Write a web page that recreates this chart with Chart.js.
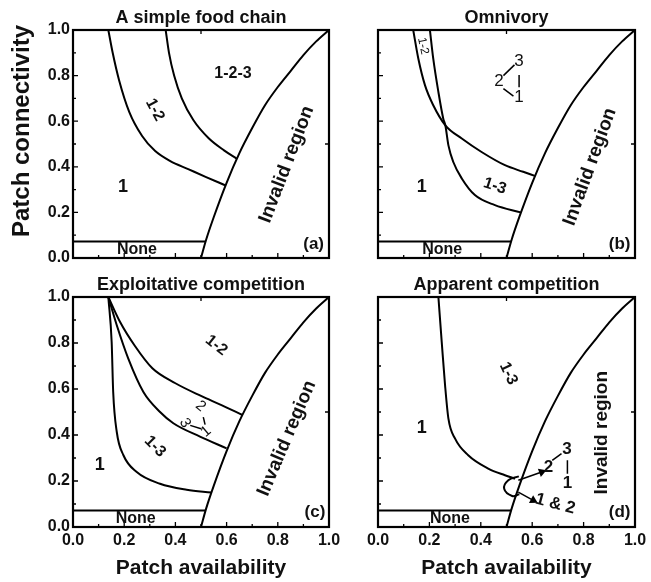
<!DOCTYPE html>
<html>
<head>
<meta charset="UTF-8">
<title>Patch availability / connectivity diagrams</title>
<script src="https://cdn.jsdelivr.net/npm/chart.js"></script>
<style>
  body { margin: 0; background: #fff; width: 651px; height: 582px; overflow: hidden; position: relative; }
  .panel { position: absolute; }
</style>
</head>
<body>
<div class="panel" style="left:0;top:0;width:335px;height:270px"><canvas id="ca"></canvas></div>
<div class="panel" style="left:305px;top:0;width:346px;height:270px"><canvas id="cb"></canvas></div>
<div class="panel" style="left:0;top:270px;width:340px;height:312px"><canvas id="cc"></canvas></div>
<div class="panel" style="left:305px;top:270px;width:346px;height:312px"><canvas id="cd"></canvas></div>

<script>
// boundary of the invalid region (same in all panels)
const invalidX = [0.5, 0.52, 0.55, 0.6, 0.65, 0.7, 0.75, 0.8, 0.85, 0.9, 0.95, 1.0];
const invalidY = [0, 0.08, 0.18, 0.33, 0.46, 0.57, 0.67, 0.75, 0.82, 0.89, 0.95, 1.0];
// "None" line
const noneX = [0, 0.518];
const noneY = [0.072, 0.072];

// (a) simple food chain
const aLowX = [0.138, 0.155, 0.18, 0.22, 0.27, 0.32, 0.38, 0.45, 0.52, 0.594];
const aLowY = [1.0, 0.9, 0.78, 0.64, 0.535, 0.47, 0.425, 0.39, 0.355, 0.319];
const aUpX = [0.362, 0.375, 0.395, 0.425, 0.47, 0.53, 0.59, 0.639];
const aUpY = [1.0, 0.9, 0.8, 0.7, 0.605, 0.525, 0.472, 0.436];

// (b) omnivory
const bAX = [0.137, 0.157, 0.183, 0.215, 0.262, 0.326, 0.403, 0.494, 0.565, 0.61];
const bAY = [1.0, 0.874, 0.757, 0.67, 0.582, 0.524, 0.465, 0.407, 0.378, 0.36];
const bBX = [0.202, 0.215, 0.235, 0.254, 0.262, 0.274, 0.293, 0.326, 0.377, 0.455, 0.555];
const bBY = [1.0, 0.874, 0.728, 0.611, 0.582, 0.494, 0.421, 0.349, 0.276, 0.232, 0.2];

// (c) exploitative competition
const cLowX = [0.138, 0.151, 0.157, 0.171, 0.197, 0.249, 0.34, 0.444, 0.54];
const cLowY = [1.0, 0.804, 0.587, 0.413, 0.312, 0.239, 0.188, 0.162, 0.15];
const cMidX = [0.138, 0.171, 0.216, 0.275, 0.34, 0.392, 0.496, 0.6];
const cMidY = [1.0, 0.877, 0.732, 0.587, 0.5, 0.451, 0.393, 0.342];
const cUpX = [0.138, 0.184, 0.24, 0.31, 0.40, 0.50, 0.58, 0.662];
const cUpY = [1.0, 0.891, 0.79, 0.69, 0.625, 0.57, 0.53, 0.487];

// (d) apparent competition
const dX = [0.235, 0.248, 0.261, 0.274, 0.3, 0.351, 0.429, 0.494, 0.533];
const dY = [1.0, 0.804, 0.616, 0.471, 0.384, 0.312, 0.254, 0.225, 0.21];
const dLoopX = [0.548, 0.507, 0.491, 0.522, 0.55];
const dLoopY = [0.22, 0.203, 0.166, 0.135, 0.142];

const tickVals = [0, 0.1, 0.2, 0.3, 0.4, 0.5, 0.6, 0.7, 0.8, 0.9, 1.0];
const FONT = '"Liberation Sans", Arial, sans-serif';

function pts(xs, ys) { return xs.map((x, i) => ({ x: x, y: ys[i] })); }
function line(xs, ys, extra) {
  return Object.assign({ data: pts(xs, ys), showLine: true, borderColor: '#000', borderWidth: 2,
    pointRadius: 0, cubicInterpolationMode: 'monotone', fill: false }, extra || {});
}
function seg(xs, ys, extra) {
  return line(xs, ys, Object.assign({ borderWidth: 1.5, cubicInterpolationMode: 'default', tension: 0 }, extra || {}));
}
function baseSets() {
  return [line(invalidX, invalidY), seg(noneX, noneY, { borderWidth: 2 })];
}

const panelPlugin = {
  id: 'panel',
  afterDatasetsDraw(chart) {
    const cfg = chart.options.plugins.panel;
    const ctx = chart.ctx, a = chart.chartArea;
    const sx = chart.scales.x, sy = chart.scales.y;
    ctx.save();
    ctx.strokeStyle = '#000';
    ctx.lineWidth = 2.2;
    ctx.strokeRect(a.left, a.top, a.right - a.left, a.bottom - a.top);
    ctx.lineWidth = 1.3;
    ctx.beginPath();
    tickVals.forEach((v, i) => {
      const len = i % 2 === 0 ? 5 : 3;
      const px = sx.getPixelForValue(v), py = sy.getPixelForValue(v);
      ctx.moveTo(px, a.bottom); ctx.lineTo(px, a.bottom - len);
      ctx.moveTo(a.left, py); ctx.lineTo(a.left + len, py);
    });
    const mx = sx.getPixelForValue(0.5), my = sy.getPixelForValue(0.5);
    ctx.moveTo(mx, a.top); ctx.lineTo(mx, a.top + 4);
    ctx.moveTo(a.right, my); ctx.lineTo(a.right - 4, my);
    ctx.stroke();

    ctx.fillStyle = '#111';
    ctx.textAlign = 'center';
    ctx.textBaseline = 'middle';
    cfg.labels.forEach(l => {
      ctx.save();
      ctx.translate(sx.getPixelForValue(l.x), sy.getPixelForValue(l.y));
      ctx.rotate((l.rot || 0) * Math.PI / 180);
      ctx.font = (l.w || 'bold') + ' ' + (l.s || 16) + 'px ' + FONT;
      ctx.fillText(l.t, 0, 0);
      ctx.restore();
    });

    ctx.font = 'bold 18px ' + FONT;
    ctx.fillText(cfg.title, (a.left + a.right) / 2, a.top - 12);
    if (cfg.yTitle) {
      ctx.save();
      ctx.translate(22, (a.top + a.bottom) / 2 - 13);
      ctx.rotate(-Math.PI / 2);
      ctx.font = 'bold 24px ' + FONT;
      ctx.fillText(cfg.yTitle, 0, 0);
      ctx.restore();
    }
    if (cfg.xTitle) {
      ctx.font = 'bold 21px ' + FONT;
      ctx.fillText(cfg.xTitle, (a.left + a.right) / 2, a.bottom + 41);
    }
    ctx.restore();
  }
};

function makeChart(id, datasets, cfg) {
  const tickFont = { family: FONT, size: 16, weight: 'bold' };
  return new Chart(document.getElementById(id), {
    type: 'scatter',
    data: { datasets: datasets },
    options: {
      responsive: true,
      maintainAspectRatio: false,
      animation: false,
      layout: { padding: { top: cfg.padTop, right: cfg.padRight, left: 0, bottom: 0 } },
      plugins: { legend: { display: false }, tooltip: { enabled: false }, panel: cfg },
      scales: {
        x: {
          type: 'linear', min: 0, max: 1,
          grid: { display: false, drawTicks: false }, border: { display: false },
          ticks: { display: cfg.xLabels, stepSize: 0.2, padding: 4, color: '#111', font: tickFont,
                   maxRotation: 0, callback: v => v.toFixed(1) },
          afterFit: s => { s.height = cfg.xH; s.paddingLeft = 0; s.paddingRight = 0; }
        },
        y: {
          type: 'linear', min: 0, max: 1,
          grid: { display: false, drawTicks: false }, border: { display: false },
          ticks: { display: cfg.yLabels, stepSize: 0.2, padding: 3, color: '#111', font: tickFont,
                   callback: v => v.toFixed(1) },
          afterFit: s => { s.width = 73; s.paddingTop = 0; s.paddingBottom = 0; }
        }
      }
    },
    plugins: [panelPlugin]
  });
}

makeChart('ca', baseSets().concat([line(aLowX, aLowY), line(aUpX, aUpY)]), {
  title: 'A simple food chain', yTitle: 'Patch connectivity',
  padTop: 30, padRight: 6, xH: 12, xLabels: false, yLabels: true,
  labels: [
    { t: '1-2-3', x: 0.625, y: 0.81 },
    { t: '1-2', x: 0.32, y: 0.65, rot: 62 },
    { t: '1', x: 0.195, y: 0.31, s: 18 },
    { t: 'None', x: 0.25, y: 0.035 },
    { t: 'Invalid region', x: 0.835, y: 0.41, rot: -69, s: 19 },
    { t: '(a)', x: 0.94, y: 0.06, s: 17 }
  ]
});

makeChart('cb', baseSets().concat([
  line(bAX, bAY), line(bBX, bBY),
  seg([0.488, 0.531], [0.80, 0.847]),
  seg([0.549, 0.549], [0.803, 0.749]),
  seg([0.488, 0.527], [0.743, 0.71])
]), {
  title: 'Omnivory',
  padTop: 30, padRight: 16, xH: 12, xLabels: false, yLabels: false,
  labels: [
    { t: '1-2', x: 0.175, y: 0.93, rot: 78, s: 12, w: 'normal' },
    { t: '3', x: 0.549, y: 0.862, s: 17, w: 'normal' },
    { t: '2', x: 0.471, y: 0.775, s: 17, w: 'normal' },
    { t: '1', x: 0.549, y: 0.703, s: 17, w: 'normal' },
    { t: '1-3', x: 0.455, y: 0.315, rot: 18 },
    { t: '1', x: 0.17, y: 0.31, s: 18 },
    { t: 'None', x: 0.25, y: 0.035 },
    { t: 'Invalid region', x: 0.825, y: 0.40, rot: -70, s: 19 },
    { t: '(b)', x: 0.94, y: 0.06, s: 17 }
  ]
});

makeChart('cc', baseSets().concat([
  line(cLowX, cLowY), line(cMidX, cMidY), line(cUpX, cUpY),
  seg([0.509, 0.516], [0.478, 0.445]),
  seg([0.458, 0.50], [0.442, 0.427])
]), {
  title: 'Exploitative competition', xTitle: 'Patch availability',
  padTop: 27, padRight: 11, xH: 55, xLabels: true, yLabels: true,
  labels: [
    { t: '1-2', x: 0.56, y: 0.79, rot: 38 },
    { t: '1-3', x: 0.32, y: 0.35, rot: 45 },
    { t: '1', x: 0.105, y: 0.27, s: 18 },
    { t: 'None', x: 0.245, y: 0.035 },
    { t: 'Invalid region', x: 0.835, y: 0.385, rot: -67, s: 19 },
    { t: '(c)', x: 0.945, y: 0.065, s: 17 },
    { t: '2', x: 0.498, y: 0.525, rot: 40, s: 15, w: 'normal' },
    { t: '3', x: 0.437, y: 0.452, rot: 60, s: 15, w: 'normal' },
    { t: '1', x: 0.52, y: 0.415, rot: -40, s: 15, w: 'normal' }
  ]
});

makeChart('cd', baseSets().concat([
  line(dX, dY), line(dLoopX, dLoopY, { cubicInterpolationMode: 'default', tension: 0.4 }),
  seg([0.546, 0.637], [0.203, 0.239], { pointRadius: [0, 5], pointStyle: 'triangle',
    rotation: [0, 70], pointBackgroundColor: '#000', pointBorderWidth: 0 }),
  seg([0.546, 0.604], [0.152, 0.116], { pointRadius: [0, 5], pointStyle: 'triangle',
    rotation: [0, 119], pointBackgroundColor: '#000', pointBorderWidth: 0 }),
  seg([0.678, 0.714], [0.29, 0.319]),
  seg([0.737, 0.737], [0.29, 0.232])
]), {
  title: 'Apparent competition', xTitle: 'Patch availability',
  padTop: 27, padRight: 16, xH: 55, xLabels: true, yLabels: false,
  labels: [
    { t: '1-3', x: 0.507, y: 0.667, rot: 65 },
    { t: '1', x: 0.17, y: 0.43, s: 18 },
    { t: 'None', x: 0.28, y: 0.035 },
    { t: 'Invalid region', x: 0.87, y: 0.41, rot: -90, s: 19 },
    { t: '(d)', x: 0.94, y: 0.065, s: 17 },
    { t: '2', x: 0.663, y: 0.26, s: 17 },
    { t: '3', x: 0.735, y: 0.336, s: 17 },
    { t: '1', x: 0.737, y: 0.188, s: 17 },
    { t: '1 & 2', x: 0.69, y: 0.10, rot: 15, s: 17 }
  ]
});
</script>
</body>
</html>
